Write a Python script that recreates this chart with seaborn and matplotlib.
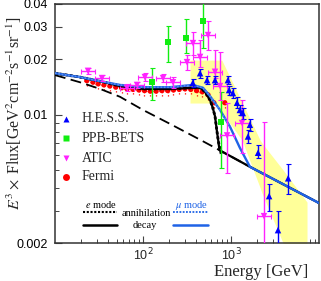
import numpy as np
import matplotlib
matplotlib.use('Agg')
import matplotlib.pyplot as plt
import seaborn as sns
from matplotlib.ticker import FixedLocator, NullFormatter, LogLocator

# background (dashed) and model curves, energy in GeV
bg_E = [10, 19.2, 32.5, 54.8, 100, 203, 445, 658, 1640, 10000]
bg_F = [0.0164, 0.0150, 0.0138, 0.0125, 0.0106, 0.0089, 0.0073, 0.0066, 0.0052, 0.0033]

mu_decay_E = [10, 19.2, 32.5, 54.8, 100, 203, 368, 480, 578, 750, 973, 1260, 1640, 10000]
mu_decay_F = [0.0168, 0.0160, 0.0152, 0.0145, 0.0141, 0.0141, 0.0145, 0.0140, 0.0126,
              0.0106, 0.0086, 0.0066, 0.0052, 0.0033]
mu_ann_E = [10, 19.2, 32.5, 54.8, 100, 203, 368, 480, 578, 750, 973]
mu_ann_F = [0.0168, 0.0160, 0.0152, 0.0145, 0.0141, 0.0141, 0.0145, 0.0140, 0.0126, 0.0106, 0.0086]

e_decay_E = [10, 19.2, 32.5, 54.8, 100, 203, 368, 445, 509, 578, 620, 658, 690, 720, 740, 1640, 10000]
e_decay_F = [0.0168, 0.0160, 0.0152, 0.0143, 0.0138, 0.0138, 0.0140, 0.0140, 0.0133, 0.0120,
             0.0109, 0.0098, 0.0082, 0.0071, 0.0064, 0.0052, 0.0033]
e_ann_E = [10, 19.2, 32.5, 54.8, 100, 203, 368, 445, 509, 578, 620, 658, 690, 720, 780]
e_ann_F = [0.0168, 0.0160, 0.0152, 0.0143, 0.0138, 0.0138, 0.0140, 0.0140, 0.0133, 0.0120,
           0.0109, 0.0098, 0.0082, 0.0071, 0.0060]

# H.E.S.S. systematic band
band_E = [342, 658, 786, 1334, 2140, 2250, 3900, 7310]
band_lo = [0.01156, 0.01156, 0.0103, 0.00727, 0.0040, 0.00374, 0.0020, 0.0015]
band_hi = [0.0198, 0.0198, 0.0198, 0.0117, 0.00727, 0.0070, 0.0050, 0.00334]

# data sets
hess_E = [368, 445, 534, 658, 922, 950, 1050, 1170, 1260, 1360, 1640, 1560, 2030, 2710, 3420, 4460]
hess_F = [0.0149, 0.0168, 0.0154, 0.0154, 0.0154, 0.0136, 0.0131, 0.0116, 0.0106, 0.0102,
          0.0088, 0.0076, 0.0062, 0.0036, 0.00235, 0.0045]
hess_lo = [0.0141, 0.0159, 0.0146, 0.0146, 0.0146, 0.0128, 0.0123, 0.0108, 0.0099, 0.0095,
           0.0081, 0.0070, 0.0058, 0.0030, 0.0018, 0.0037]
hess_hi = [0.0157, 0.0177, 0.0162, 0.0162, 0.0162, 0.0144, 0.0139, 0.0124, 0.0113, 0.0109,
           0.0095, 0.0082, 0.0068, 0.0042, 0.0030, 0.0054]

ppb_E = [126, 192, 308, 481, 769]
ppb_F = [0.0150, 0.0249, 0.0261, 0.0323, 0.0091]
ppb_lo = [0.0120, 0.0193, 0.0216, 0.0230, 0.0051]
ppb_hi = [0.0179, 0.0304, 0.0331, 0.0450, 0.0132]

atic_E = [23.7, 34.2, 65.8, 85.5, 105, 169, 219, 316, 370, 445, 548, 658, 750, 902, 1334, 2370]
atic_F = [0.0173, 0.0158, 0.0140, 0.0145, 0.0160, 0.0158, 0.0150, 0.0193, 0.0245, 0.0206,
          0.0271, 0.0171, 0.0143, 0.0077, 0.0090, 0.0028]
atic_lo = [0.0167, 0.0152, 0.0134, 0.0139, 0.0152, 0.0150, 0.0140, 0.0175, 0.0211, 0.0182,
           0.0225, 0.0158, 0.0120, 0.0048, 0.0062, 0.0010]
atic_hi = [0.0179, 0.0164, 0.0146, 0.0151, 0.0168, 0.0166, 0.0160, 0.0212, 0.0282, 0.0255,
           0.0323, 0.0225, 0.0220, 0.0116, 0.0120, 0.0091]

fermi_E = [23, 27, 31, 36, 42, 49, 57, 66, 77, 90, 104, 121, 141, 164, 191, 222, 258, 300,
           349, 406, 472, 549, 639, 850]
fermi_F = [0.0153, 0.0150, 0.0147, 0.0145, 0.0143, 0.0141, 0.0140, 0.0138, 0.0137, 0.0136,
           0.0135, 0.0134, 0.0134, 0.0135, 0.0135, 0.0136, 0.0137, 0.0138, 0.0137, 0.0135,
           0.0133, 0.0128, 0.0116, 0.0116]

sns.set_theme(style='ticks')
plt.rcParams['font.family'] = ['Liberation Serif', 'DejaVu Serif']
plt.rcParams['mathtext.fontset'] = 'stix'

BLUE = '#1f63e6'

fig = plt.figure(figsize=(3.21, 2.81), dpi=100)
ax = fig.add_axes([55 / 321, 38 / 281, 264 / 321, 239 / 281])
ax.set_xscale('log')
ax.set_yscale('log')

# yellow band
ax.fill_between(band_E, band_lo, band_hi, color='#ffff99', lw=0, zorder=1)

# Fermi with dotted systematic boxes
fE = np.array(fermi_E)
fF = np.array(fermi_F)
eb = ax.errorbar(fE, fF, xerr=[fE - fE / 1.08, fE * 1.08 - fE], yerr=[fF * 0.06, fF * 0.06],
                 fmt='none', ecolor='red', elinewidth=0.9, capsize=0, zorder=2)
for c in eb[2]:
    c.set_linestyle(':')
sns.scatterplot(x=fermi_E, y=fermi_F, marker='o', s=14, color='red', edgecolor='none',
                ax=ax, zorder=2)

# curves
sns.lineplot(x=bg_E, y=bg_F, color='black', lw=1.3, linestyle=(0, (6, 3)), sort=False,
             estimator=None, ax=ax, zorder=3)
sns.lineplot(x=e_decay_E, y=e_decay_F, color='black', lw=1.6, sort=False, estimator=None,
             ax=ax, zorder=3)
sns.lineplot(x=e_ann_E, y=e_ann_F, color='black', lw=2.0, linestyle=(0, (1, 0.8)), sort=False,
             estimator=None, ax=ax, zorder=3)
sns.lineplot(x=mu_decay_E, y=mu_decay_F, color=BLUE, lw=1.7, sort=False, estimator=None,
             ax=ax, zorder=4)
sns.lineplot(x=mu_ann_E, y=mu_ann_F, color='#5a8ff0', lw=1.2, linestyle=(0, (1, 1)), sort=False,
             estimator=None, ax=ax, zorder=4)


def draw_set(E, F, lo, hi, marker, color, s, xfac=None):
    E = np.array(E)
    F = np.array(F)
    xerr = None
    if xfac:
        xerr = [E - E / xfac, E * xfac - E]
    ax.errorbar(E, F, yerr=[F - np.array(lo), np.array(hi) - F], xerr=xerr, fmt='none',
                ecolor=color, elinewidth=1.0, capsize=1.8, capthick=0.8, zorder=5)
    sns.scatterplot(x=E, y=F, marker=marker, s=s, color=color, edgecolor='none', ax=ax,
                    zorder=6)


draw_set(ppb_E, ppb_F, ppb_lo, ppb_hi, 's', '#11ee11', 18)
draw_set(atic_E, atic_F, atic_lo, atic_hi, 'v', '#ff22ff', 22, xfac=1.2)
draw_set(hess_E, hess_F, hess_lo, hess_hi, '^', '#0000ff', 22)

ax.set_xlim(10, 10000)
ax.set_ylim(0.002, 0.04)

# ticks
ax.xaxis.set_major_locator(FixedLocator([100, 1000]))
ax.xaxis.set_minor_locator(LogLocator(base=10, subs=np.arange(2, 10)))
ax.xaxis.set_minor_formatter(NullFormatter())
ax.set_xticklabels([])
ax.yaxis.set_major_locator(FixedLocator([0.002, 0.01, 0.02, 0.03, 0.04]))
ax.yaxis.set_minor_locator(FixedLocator([0.003, 0.004, 0.005, 0.006, 0.007, 0.008, 0.009]))
ax.yaxis.set_minor_formatter(NullFormatter())
ax.set_yticklabels(['0.002', '0.01', '0.02', '0.03', '0.04'], family='Liberation Sans', fontsize=9)
for xv, lab in [(100, '10$^{2}$'), (1000, '10$^{3}$')]:
    ax.text(xv, -0.015, lab, transform=ax.get_xaxis_transform(), ha='center', va='top',
            family='Liberation Sans', fontsize=9, math_fontfamily='dejavusans')
ax.tick_params(which='both', direction='in', top=False, right=False, colors='#444444',
               labelcolor='black')
ax.tick_params(which='major', length=5, width=0.8, pad=5)
ax.tick_params(which='minor', length=3, width=0.7)
for sp in ax.spines.values():
    sp.set_color('#333333')
    sp.set_linewidth(1.1)

fig.text(308 / 321, 1 - 272 / 281, 'Energy [GeV]', ha='right', va='center', fontsize=12)
fig.text(14 / 321, 1 - 113 / 281,
         r'$E^3\times$ Flux[GeV$^2$cm$^{-2}$s$^{-1}$sr$^{-1}$]',
         rotation=90, ha='center', va='center', fontsize=11.5)


# marker legend (pixel positions converted to axes fractions)
def axpos(px, py):
    return (px - 55) / 264, (243 - py) / 239


legend_items = [('H.E.S.S.', '^', '#0000ff', 119), ('PPB-BETS', 's', '#11ee11', 138),
                ('ATIC', 'v', '#ff22ff', 158), ('Fermi', 'o', 'red', 177)]
for label, mk, col, py in legend_items:
    mx, my = axpos(66, py)
    ax.plot([mx], [my], marker=mk, ms=5, color=col, mec='none', transform=ax.transAxes,
            zorder=7)
    tx, ty = axpos(82, py)
    ax.text(tx, ty, label, transform=ax.transAxes, va='center', ha='left', fontsize=10)

# line legend
x0, y0 = axpos(83, 212)
x1, _ = axpos(117, 212)
ax.plot([x0, x1], [y0, y0], color='black', lw=1.5, linestyle=(0, (1, 0.8)), transform=ax.transAxes)
x0, y0 = axpos(83, 225)
ax.plot([x0, x1], [y0, y0], color='black', lw=1.8, transform=ax.transAxes)
x0, y0 = axpos(173, 212)
x1, _ = axpos(208, 212)
ax.plot([x0, x1], [y0, y0], color=BLUE, lw=1.3, linestyle=(0, (1, 0.8)), transform=ax.transAxes)
x0, y0 = axpos(173, 225)
ax.plot([x0, x1], [y0, y0], color=BLUE, lw=1.8, transform=ax.transAxes)
for txt, px, py, col in [('$e$ mode', 101, 205, 'black'), ('annihilation', 146, 213, 'black'),
                         ('decay', 145, 226, 'black'), (r'$\mu$ mode', 192, 205, BLUE)]:
    tx, ty = axpos(px, py)
    ax.text(tx, ty, txt, transform=ax.transAxes, ha='center', va='center', fontsize=7.5,
            color=col)

fig.savefig('out.png', dpi=100)
